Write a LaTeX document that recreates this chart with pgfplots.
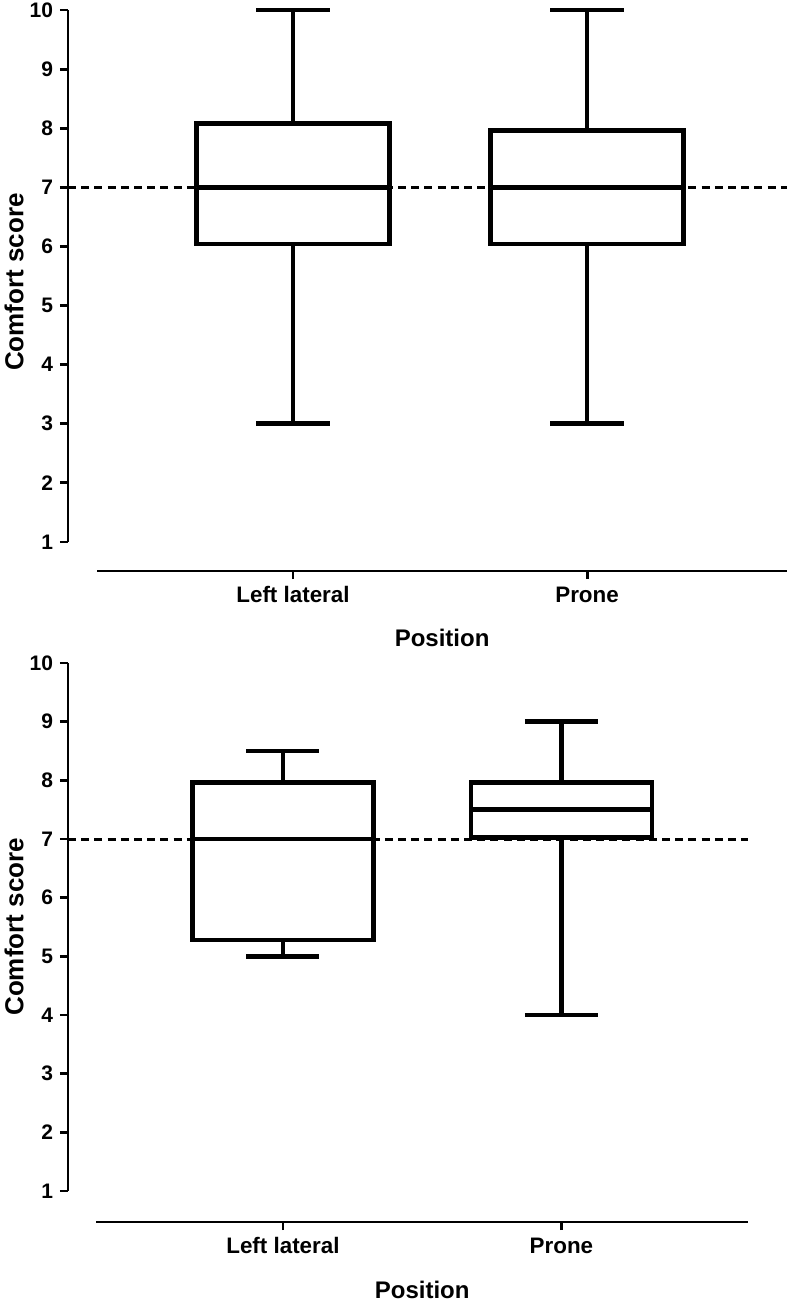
\documentclass[border=0pt]{standalone}
\usepackage{fontspec}
\setmainfont{Liberation Sans}
\usepackage{pgfplots}
\pgfplotsset{compat=1.18}
\usepgfplotslibrary{statistics}

\pgfplotsset{
  gp/.style={
    scale only axis,
    axis x line=bottom, axis y line=left,
    axis line style={-, line width=1.45pt, black},
    tick align=outside,
    major tick length=4pt,
    every tick/.style={black, line width=1.45pt},
    ytick={1,2,3,4,5,6,7,8,9,10},
    xtick={1,2},
    xticklabels={Left lateral, Prone},
    minor tick num=0,
    ymax=10,
    boxplot/draw direction=y,
    /pgf/number format/assume math mode=true,
    yticklabel style={font=\bfseries\fontsize{10.5}{12}\selectfont},
    xticklabel style={font=\bfseries\fontsize{11.2}{13}\selectfont, text height=8pt, text depth=2pt},
    ylabel={Comfort score},
    xlabel={Position},
    clip=false,
  },
  gpbox/.style={black, line width=2.4pt, fill=white, solid, mark=none},
  gpdash/.style={black, line width=1.5pt, dash pattern=on 4pt off 2.6pt, mark=none},
}

\begin{document}
\begin{tikzpicture}
\useasboundingbox (0,0) rectangle (393.5pt,-650.5pt);

% ---------- top panel ----------
\begin{axis}[gp,
  at={(34pt,-285.5pt)}, anchor=south west,
  width=359.5pt, height=280.5pt,
  xmin=0.2347, xmax=2.680, ymin=0.509,
  x axis line style={shorten <=14.5pt},
  y axis line style={shorten <=14.5pt},
  every axis y label/.style={at={(axis description cs:0,0.515)}, xshift=-27pt, rotate=90, anchor=center, font=\bfseries\fontsize{13}{15}\selectfont},
  every axis x label/.style={at={(axis cs:1.507,0.509)}, anchor=center, yshift=-33.5pt, font=\bfseries\fontsize{12}{14}\selectfont},
]
\addplot[gpdash] coordinates {(0.2347,7) (2.680,7)};
\addplot[gpbox, boxplot prepared={draw position=1, median=7, upper quartile=8.08, lower quartile=6.04, upper whisker=10, lower whisker=3, box extend=0.656, whisker extend=0.25}] coordinates {};
\addplot[gpbox, boxplot prepared={draw position=2, median=7, upper quartile=7.96, lower quartile=6.04, upper whisker=10, lower whisker=3, box extend=0.656, whisker extend=0.25}] coordinates {};
\end{axis}

% ---------- bottom panel ----------
\begin{axis}[gp,
  at={(34pt,-611pt)}, anchor=south west,
  width=340pt, height=279.5pt,
  xmin=0.228, xmax=2.670, ymin=0.472,
  x axis line style={shorten <=14pt},
  y axis line style={shorten <=15.5pt},
  every axis y label/.style={at={(axis description cs:0,0.528)}, xshift=-27pt, rotate=90, anchor=center, font=\bfseries\fontsize{13}{15}\selectfont},
  every axis x label/.style={at={(axis cs:1.5,0.472)}, anchor=center, yshift=-34pt, font=\bfseries\fontsize{12}{14}\selectfont},
]
\addplot[gpdash] coordinates {(0.228,7) (2.670,7)};
\addplot[gpbox, boxplot prepared={draw position=1, median=7, upper quartile=7.96, lower quartile=5.28, upper whisker=8.5, lower whisker=5, box extend=0.65, whisker extend=0.262}] coordinates {};
\addplot[gpbox, boxplot prepared={draw position=2, median=7.5, upper quartile=7.96, lower quartile=7.03, upper whisker=9, lower whisker=4, box extend=0.65, whisker extend=0.262}] coordinates {};
\end{axis}
\end{tikzpicture}
\end{document}
